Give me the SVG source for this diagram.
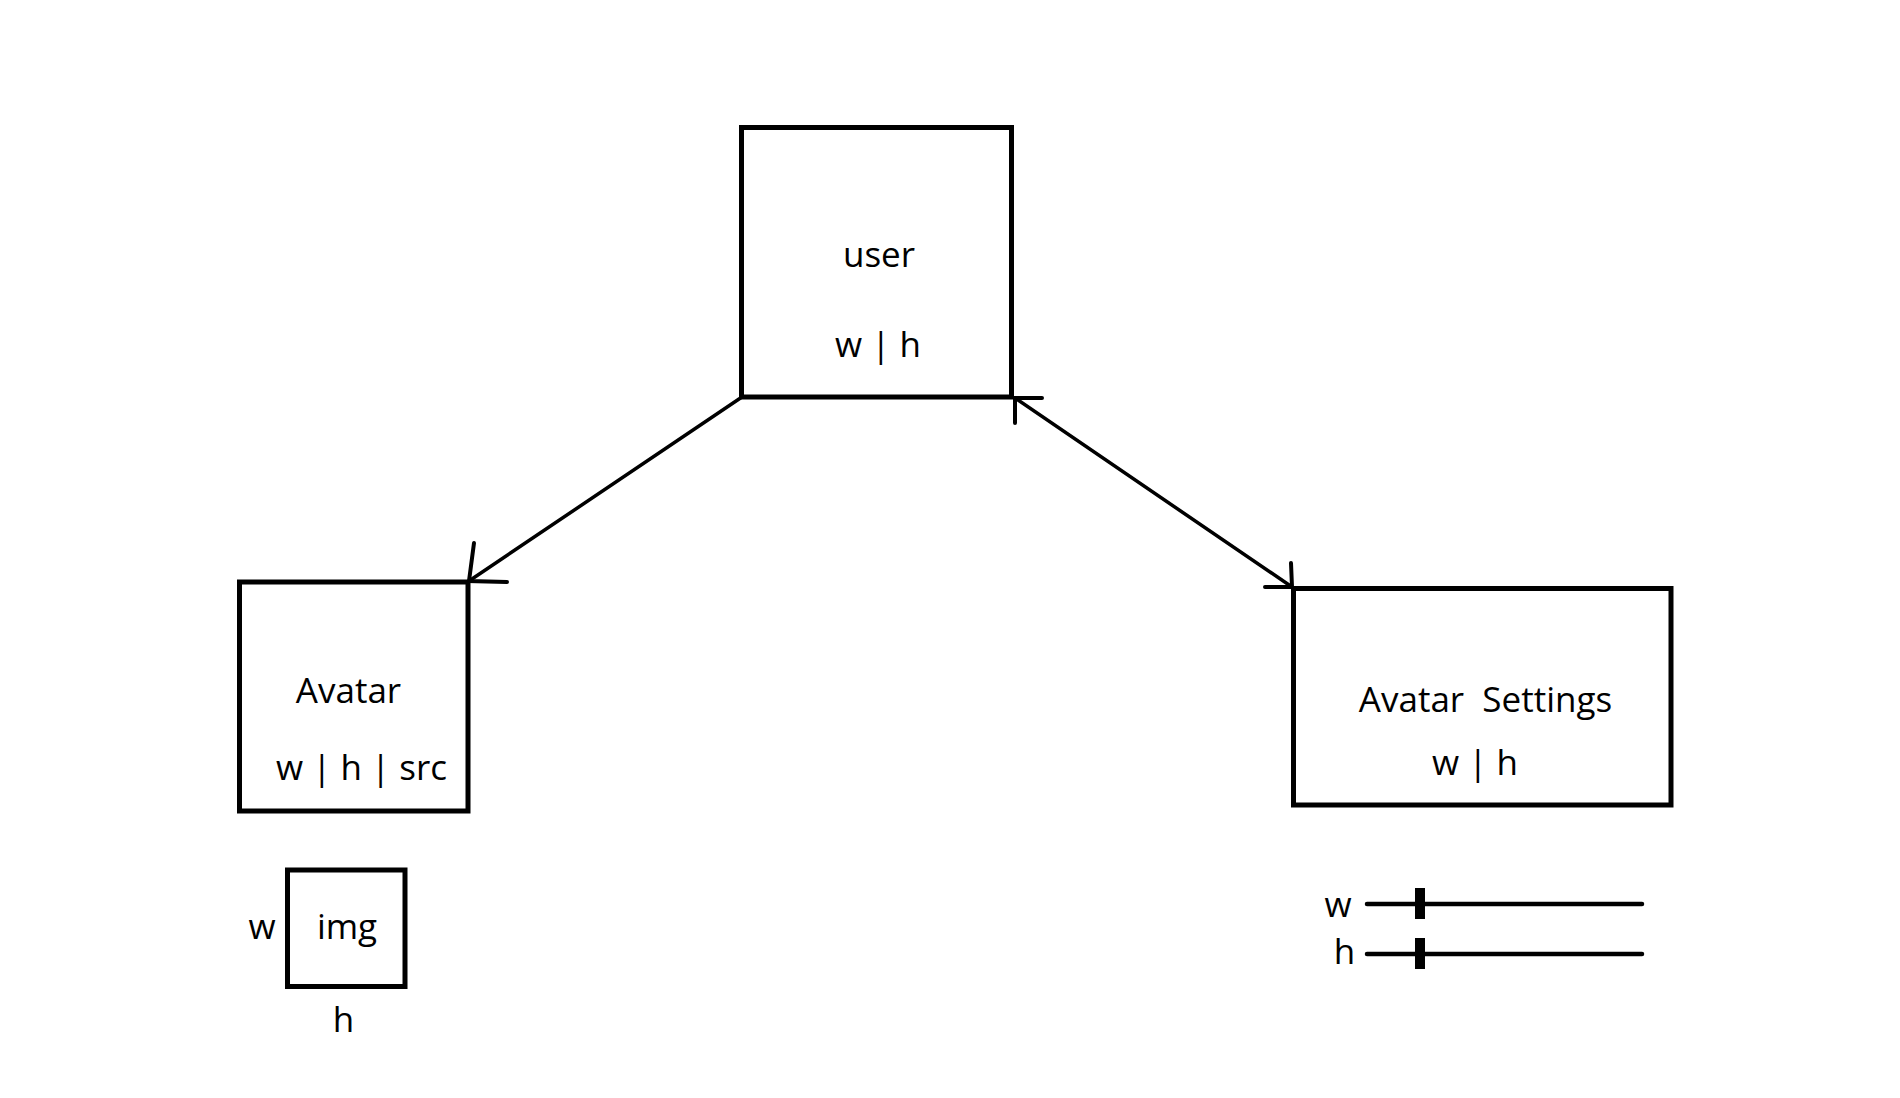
<svg xmlns="http://www.w3.org/2000/svg" width="1900" height="1098" viewBox="0 0 1900 1098">
<style>
.box{fill:#fff;stroke:#000;stroke-width:5}
.lbl{font-family:"Open Sans","Noto Sans","Liberation Sans",sans-serif;font-size:35px;fill:#000;text-anchor:middle}
.conn{stroke:#000;stroke-width:3.5;fill:none;stroke-linecap:round}
.head{stroke:#000;stroke-width:4;fill:none;stroke-linecap:round}
.track{stroke:#000;stroke-width:4.5;stroke-linecap:round}
</style>
<rect width="1900" height="1098" fill="#fff"/>
<g id="connectors">
<g id="user-to-avatar">
<line class="conn" x1="742" y1="397" x2="469" y2="581"/>
<polyline class="head" points="474,543 469,581 507,582"/>
</g>
<g id="user-avatarsettings">
<line class="conn" x1="1015" y1="398" x2="1292" y2="587"/>
<polyline class="head" points="1042,398 1015,398 1015,423"/>
<polyline class="head" points="1265,587 1292,587 1291,563"/>
</g>
</g>
<g id="user">
<rect class="box" x="741.5" y="127.5" width="270" height="269.5"/>
<text class="lbl" x="879" y="267">user</text>
<text class="lbl" x="878" y="357">w | h</text>
</g>
<g id="avatar">
<rect class="box" x="239.5" y="582" width="228.5" height="229"/>
<text class="lbl" x="348.5" y="703">Avatar</text>
<text class="lbl" x="361.5" y="780">w | h | src</text>
</g>
<g id="avatar-settings">
<rect class="box" x="1293.5" y="588.5" width="377.5" height="216.5"/>
<text class="lbl" x="1485.5" y="712" xml:space="preserve">Avatar  Settings</text>
<text class="lbl" x="1475" y="775">w | h</text>
</g>
<g id="img">
<rect class="box" x="287.5" y="870" width="117.5" height="116.5"/>
<text class="lbl" x="347" y="939">img</text>
<text class="lbl" x="262" y="939">w</text>
<text class="lbl" x="343.5" y="1032">h</text>
</g>
<g id="sliders">
<text class="lbl" x="1338" y="917">w</text>
<line class="track" x1="1367" y1="904" x2="1642" y2="904"/>
<rect x="1415" y="888" width="10" height="31" fill="#000"/>
<text class="lbl" x="1344.5" y="964">h</text>
<line class="track" x1="1367" y1="954" x2="1642" y2="954"/>
<rect x="1415" y="938" width="10" height="31" fill="#000"/>
</g>
</svg>
